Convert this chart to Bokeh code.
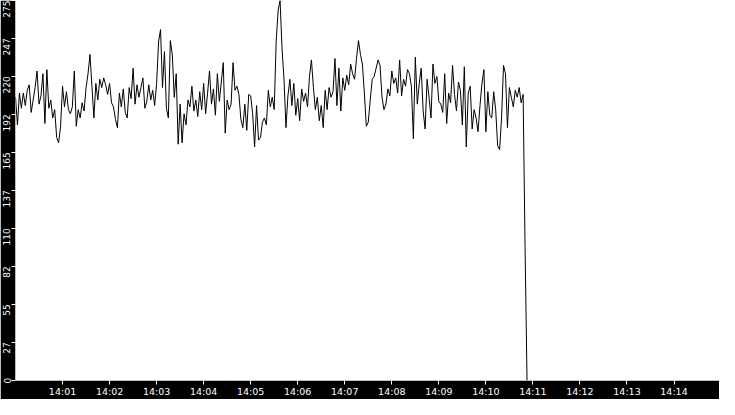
import datetime as dt

from bokeh.plotting import figure
from bokeh.models import Range1d, FixedTicker, DatetimeTickFormatter, LinearAxis
from bokeh.embed import file_html
from bokeh.resources import INLINE

# one reading every 2.5 s starting 14:00:00
start = dt.datetime(2024, 1, 1, 14, 0, 0)
step_s = 2.5
values = [
    205, 185, 208, 197, 208, 199, 210, 214, 194, 203,
    212, 224, 200, 206, 222, 186, 225, 197, 203, 190,
    196, 176, 172, 184, 213, 198, 209, 196, 193, 198,
    224, 184, 196, 190, 201, 195, 212, 222, 236, 213,
    190, 215, 203, 218, 212, 219, 214, 207, 215, 201,
    198, 189, 183, 208, 198, 211, 194, 190, 212, 204,
    226, 200, 214, 205, 212, 219, 197,
    202, 214, 203, 210, 199, 215, 245, 254, 212, 238,
    197, 190, 246, 236, 205, 222, 171, 200, 172, 193,
    185, 203, 198, 213, 195, 203, 191, 209, 196, 215,
    193, 208, 224, 200, 211, 192, 222, 202, 216, 230,
    179, 203, 196, 200, 230, 210, 213, 207, 189, 183,
    200, 181, 207, 206, 193, 169, 199, 174, 176, 187,
    190, 185, 210, 198, 205, 196, 245,
    268, 275, 240, 218, 183, 206, 218, 199, 215, 192,
    204, 188, 211, 202, 208, 198, 220, 232, 212, 196,
    205, 188, 199, 183, 210, 196, 212, 205, 209, 233,
    199, 226, 195, 219, 210, 221, 214, 229, 222, 218,
    233, 246, 236, 229, 208, 184, 187, 203, 218, 220,
    226, 232, 228, 205, 196, 200, 211, 206, 224, 215,
    219, 208, 232, 206, 218, 213, 225,
    222, 213, 175, 234, 200, 215, 226, 195, 182, 218,
    205, 190, 229, 215, 220, 202, 200, 194, 222, 186,
    208, 201, 228, 207, 195, 216, 210, 185, 227, 169,
    208, 213, 182, 196, 190, 180, 199, 215, 225, 180,
    209, 192, 190, 209, 196, 170, 167, 190, 228, 222,
    183, 212, 205, 198, 210, 205, 212, 201, 207,
    96, 0,
]
times = [start + dt.timedelta(seconds=step_s * i) for i in range(len(values))]

x_tick_minutes = list(range(1, 15))
y_ticks = [0, 27.5, 55, 82.5, 110, 137.5, 165, 192.5, 220, 247.5, 275]
y_tick_labels = ["0", "27", "55", "82", "110", "137", "165", "192", "220", "247", "275"]

W, H = 719, 399
LEFT, BOTTOM = 15, 17
Y_MAX = 275

epoch = dt.datetime(1970, 1, 1)
x_ticks_ms = [((start + dt.timedelta(minutes=m)) - epoch).total_seconds() * 1000
              for m in x_tick_minutes]

p = figure(
    width=W, height=H,
    x_axis_type="datetime",
    x_range=Range1d(start, start + dt.timedelta(minutes=14, seconds=58)),
    y_range=Range1d(0, Y_MAX),
    output_backend="svg", toolbar_location=None,
    min_border_left=LEFT, min_border_bottom=BOTTOM,
    min_border_top=0, min_border_right=0,
    border_fill_color="black", background_fill_color="white",
    outline_line_color=None,
)
p.grid.visible = False

p.line(times, values, line_color="black", line_width=1)

fmt = "%H:%M"
p.xaxis.ticker = FixedTicker(ticks=x_ticks_ms)
p.xaxis.formatter = DatetimeTickFormatter(
    seconds=fmt, minsec=fmt, minutes=fmt, hourmin=fmt, hours=fmt)

for ax in (p.xaxis[0], p.yaxis[0]):
    ax.axis_line_color = None
    ax.major_tick_line_color = "white"
    ax.major_tick_in = 0
    ax.major_tick_out = 4
    ax.minor_tick_line_color = None
    ax.major_label_standoff = 1
    ax.major_label_text_color = "white"
    ax.major_label_text_font = "DejaVu Sans"
    ax.major_label_text_font_size = "9.5px"

# inner y axis: ticks only
p.yaxis.ticker = FixedTicker(ticks=y_ticks)
p.yaxis.major_label_overrides = {t: "" for t in y_ticks}
p.yaxis.major_label_standoff = 0

# outer y axis: labels only, each nudged so the text ends at its tick
px_per_unit = (H - BOTTOM) / Y_MAX
label_pos = []
for t, lab in zip(y_ticks, y_tick_labels):
    shift = 0 if len(lab) == 1 else len(lab) * 2.8 / px_per_unit
    label_pos.append(round(t - shift, 3))

lab_axis = LinearAxis(
    ticker=FixedTicker(ticks=label_pos),
    major_label_overrides=dict(zip(label_pos, y_tick_labels)),
    major_label_orientation="parallel",
    axis_line_color=None, major_tick_line_color=None, minor_tick_line_color=None,
    major_tick_in=0, major_tick_out=0, major_label_standoff=1,
    major_label_text_color="white", major_label_text_font="DejaVu Sans",
    major_label_text_font_size="9px",
)
p.add_layout(lab_axis, "left")

open("out.html", "w").write(file_html(p, INLINE))
